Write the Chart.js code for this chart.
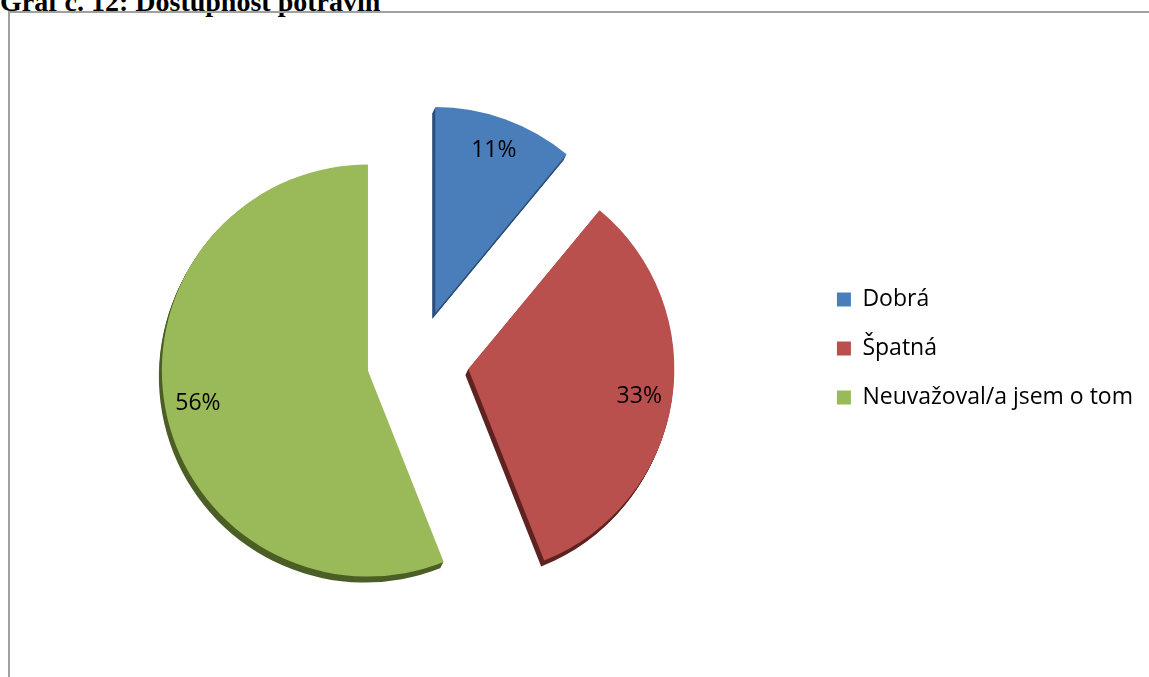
<!DOCTYPE html>
<html>
<head>
<meta charset="utf-8">
<title>Dostupnost potravin</title>
<script src="https://cdn.jsdelivr.net/npm/chart.js@4/dist/chart.umd.min.js"></script>
<style>
  html, body { margin: 0; padding: 0; background: #fff; overflow: hidden; }
  body { width: 1149px; height: 677px; position: relative; }
  #graphTitle {
    position: absolute; left: 0; top: -12px; margin: 0;
    font: bold 28px/28px "Liberation Serif", "Times New Roman", serif; color: #000;
    white-space: nowrap;
  }
  #frame {
    position: absolute; left: 8px; top: 11px; width: 1200px; height: 700px;
    border-left: 2px solid #a0a0a0; border-top: 2px solid #a0a0a0;
  }
  #chartBox { position: absolute; left: 10px; top: 13px; width: 1133px; height: 671px; }
</style>
</head>
<body>
<p id="graphTitle">Graf č. 12: Dostupnost potravin</p>
<div id="frame"></div>
<div id="chartBox"><canvas id="myChart"></canvas></div>

<script>
var labels = ["Dobrá", "Špatná", "Neuvažoval/a jsem o tom"];
var values = [11, 33, 56];
var colors = ["#4a7ebb", "#b9504d", "#9aba59"];
var sideColors = ["#2d4e78", "#5e2321", "#4a5e26"];

var explode = 51;   // how far every slice is pulled out of the centre
var depth = 6;      // thickness of the pie edge

// push each slice out along its middle angle
var explodePlugin = {
  id: "explode",
  afterDatasetUpdate: function(chart, args) {
    args.meta.data.forEach(function(arc) {
      var mid = (arc.startAngle + arc.endAngle) / 2;
      arc.x += Math.cos(mid) * explode;
      arc.y += Math.sin(mid) * explode;
    });
  }
};

// dark rim under each slice, so the pie looks a bit 3D
var rimPlugin = {
  id: "rim",
  beforeDatasetsDraw: function(chart) {
    var ctx = chart.ctx;
    var meta = chart.getDatasetMeta(0);
    meta.data.forEach(function(arc, i) {
      ctx.save();
      ctx.fillStyle = sideColors[i];
      for (var k = 1; k <= depth; k++) {
        var x = arc.x - k * 0.5;
        var y = arc.y + k;
        ctx.beginPath();
        ctx.moveTo(x, y);
        ctx.arc(x, y, arc.outerRadius, arc.startAngle, arc.endAngle);
        ctx.closePath();
        ctx.fill();
      }
      ctx.restore();
    });
  }
};

// percentage text near the outer edge of each slice
var labelPlugin = {
  id: "pctLabels",
  afterDatasetsDraw: function(chart) {
    var ctx = chart.ctx;
    var meta = chart.getDatasetMeta(0);
    ctx.save();
    ctx.font = "23px 'Open Sans'";
    ctx.fillStyle = "#000";
    ctx.textAlign = "center";
    ctx.textBaseline = "middle";
    meta.data.forEach(function(arc, i) {
      var mid = (arc.startAngle + arc.endAngle) / 2;
      var r = arc.outerRadius * 0.84;
      ctx.fillText(values[i] + "%", arc.x + Math.cos(mid) * r, arc.y + Math.sin(mid) * r);
    });
    ctx.restore();
  }
};

var ctx = document.getElementById("myChart");

var chartData = {
  labels: labels,
  datasets: [
    {
      data: values,
      backgroundColor: colors,
      borderWidth: 0,
      radius: 206
    }
  ]
};

var options = {
  responsive: true,
  maintainAspectRatio: false,
  animation: false,
  events: [],
  layout: {
    padding: { left: 15, right: 0, top: 0, bottom: 0 }
  },
  plugins: {
    // empty spacer above the pie so it sits a bit lower than the legend
    title: {
      display: true,
      text: "",
      fullSize: false,
      font: { size: 10 },
      padding: { top: 0, bottom: 13 }
    },
    legend: {
      display: true,
      position: "right",
      labels: {
        boxWidth: 14,
        boxHeight: 14,
        padding: 26,
        color: "#000",
        font: { family: "'Open Sans'", size: 23 }
      }
    },
    tooltip: { enabled: false }
  }
};

var chart = new Chart(ctx, {
  type: "pie",
  data: chartData,
  options: options,
  plugins: [explodePlugin, rimPlugin, labelPlugin]
});
</script>
</body>
</html>
